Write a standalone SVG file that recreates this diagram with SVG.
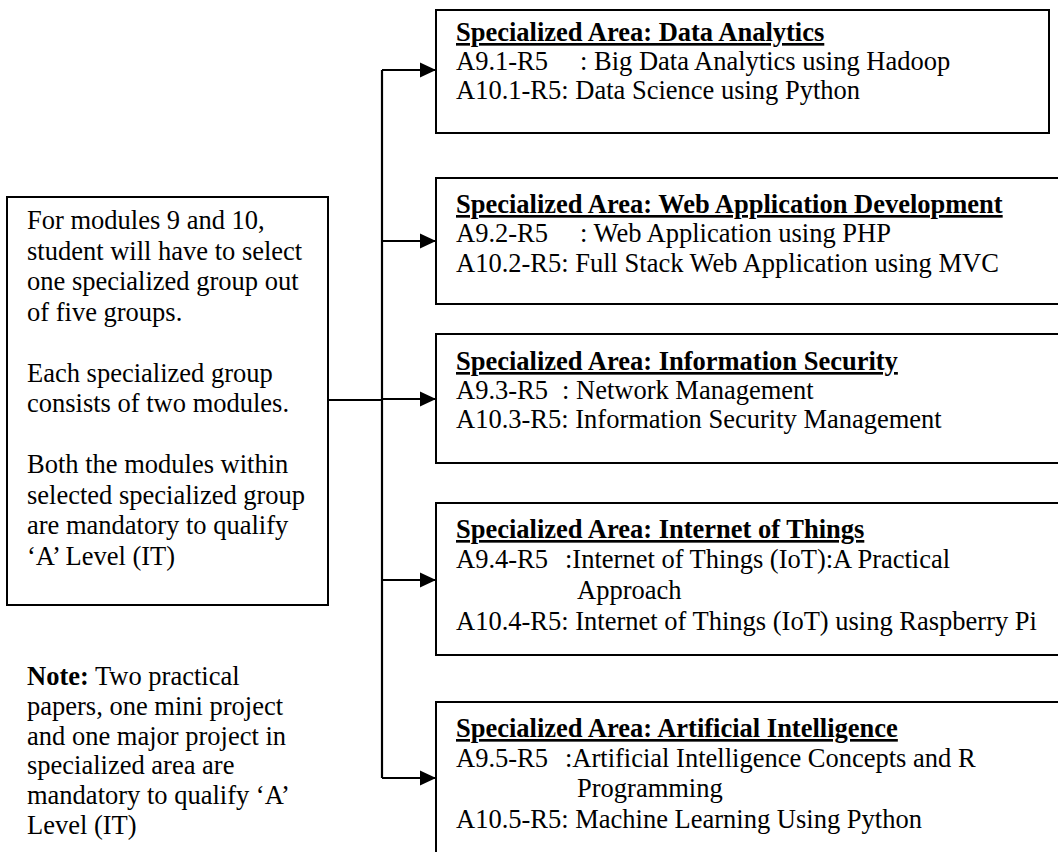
<svg xmlns="http://www.w3.org/2000/svg" width="1058" height="852" viewBox="0 0 1058 852">
<style>
  text { font-family: "Liberation Serif", "Times New Roman", serif; font-size: 26.5px; fill: #000; }
  .h { font-weight: bold; text-decoration: underline; }
  .box { fill: #fff; stroke: #000; stroke-width: 2; }
  .conn { fill: none; stroke: #000; stroke-width: 2.2; }
</style>
<defs>
  <marker id="arr" markerWidth="16" markerHeight="16" refX="16" refY="8" orient="auto" markerUnits="userSpaceOnUse">
    <path d="M0,0.5 L16,8 L0,15.5 Z" fill="#000"/>
  </marker>
</defs>
<rect width="1058" height="852" fill="#fff"/>

<g id="info">
  <rect class="box" x="7" y="197" width="321" height="408"/>
  <text x="27" y="229">For modules 9 and 10,</text>
  <text x="27" y="259.5">student will have to select</text>
  <text x="27" y="290">one specialized group out</text>
  <text x="27" y="320.5">of five groups.</text>
  <text x="27" y="381.5">Each specialized group</text>
  <text x="27" y="412">consists of two modules.</text>
  <text x="27" y="473">Both the modules within</text>
  <text x="27" y="503.5">selected specialized group</text>
  <text x="27" y="534">are mandatory to qualify</text>
  <text x="27" y="564.5">‘A’ Level (IT)</text>
</g>

<g id="note">
  <text x="27" y="685"><tspan font-weight="bold">Note:</tspan> Two practical</text>
  <text x="27" y="715">papers, one mini project</text>
  <text x="27" y="745">and one major project in</text>
  <text x="27" y="774">specialized area are</text>
  <text x="27" y="804">mandatory to qualify ‘A’</text>
  <text x="27" y="834">Level (IT)</text>
</g>

<g id="connectors">
  <path class="conn" d="M328,400 H382"/>
  <path class="conn" d="M382,70 V778"/>
  <path class="conn" d="M382,70 H436" marker-end="url(#arr)"/>
  <path class="conn" d="M382,241 H436" marker-end="url(#arr)"/>
  <path class="conn" d="M382,399 H436" marker-end="url(#arr)"/>
  <path class="conn" d="M382,580 H436" marker-end="url(#arr)"/>
  <path class="conn" d="M382,778 H436" marker-end="url(#arr)"/>
</g>

<g id="da">
  <rect class="box" x="436" y="10" width="613" height="123"/>
  <text class="h" x="456" y="41">Specialized Area: Data Analytics</text>
  <text x="456" y="70">A9.1-R5<tspan x="580">: Big Data Analytics using Hadoop</tspan></text>
  <text x="456" y="99">A10.1-R5: Data Science using Python</text>
</g>

<g id="web">
  <rect class="box" x="436" y="178" width="640" height="126"/>
  <text class="h" x="456" y="213">Specialized Area: Web Application Development</text>
  <text x="456" y="242">A9.2-R5<tspan x="580">: Web Application using PHP</tspan></text>
  <text x="456" y="272">A10.2-R5: Full Stack Web Application using MVC</text>
</g>

<g id="sec">
  <rect class="box" x="436" y="334" width="640" height="129"/>
  <text class="h" x="456" y="370">Specialized Area: Information Security</text>
  <text x="456" y="399">A9.3-R5<tspan x="562">: Network Management</tspan></text>
  <text x="456" y="428">A10.3-R5: Information Security Management</text>
</g>

<g id="iot">
  <rect class="box" x="436" y="503" width="640" height="152"/>
  <text class="h" x="456" y="538">Specialized Area: Internet of Things</text>
  <text x="456" y="568">A9.4-R5<tspan x="565">:Internet of Things (IoT):A Practical</tspan></text>
  <text x="577" y="599">Approach</text>
  <text x="456" y="630">A10.4-R5: Internet of Things (IoT) using Raspberry Pi</text>
</g>

<g id="ai">
  <rect class="box" x="436" y="702" width="640" height="170"/>
  <text class="h" x="456" y="737">Specialized Area: Artificial Intelligence</text>
  <text x="456" y="767">A9.5-R5<tspan x="565">:Artificial Intelligence Concepts and  R</tspan></text>
  <text x="577" y="797">Programming</text>
  <text x="456" y="828">A10.5-R5: Machine Learning Using Python</text>
</g>
</svg>
